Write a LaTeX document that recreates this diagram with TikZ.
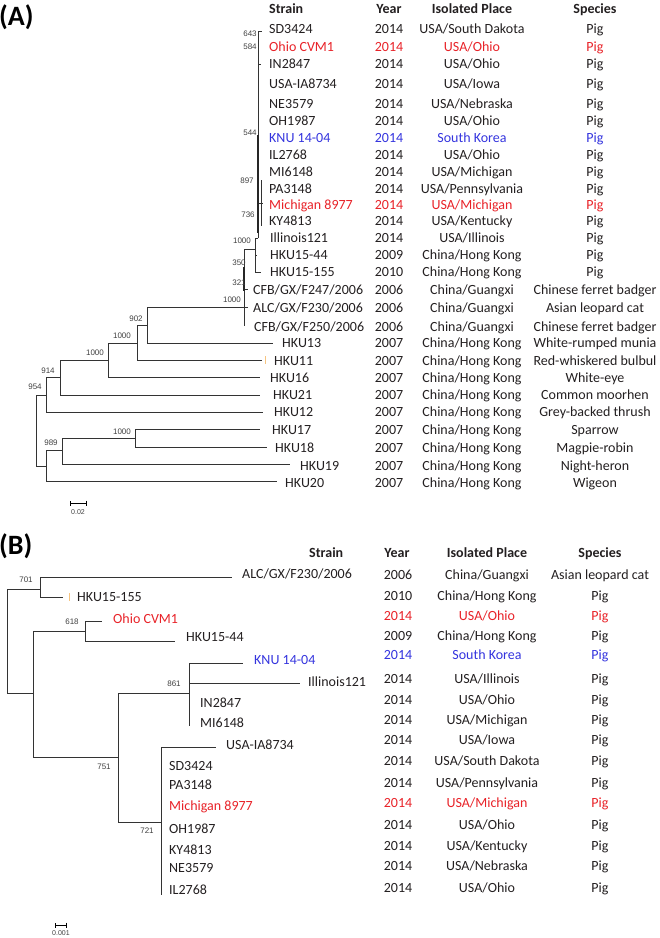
\documentclass[tikz,border=0pt]{standalone}
\usepackage{fontspec}
\setmainfont{Carlito}
\newfontfamily\bsfont{Liberation Sans}
\usetikzlibrary{arrows.meta,positioning}
\definecolor{ink}{RGB}{35,31,32}
\definecolor{ohred}{RGB}{232,34,40}
\definecolor{knublue}{RGB}{52,52,222}
\definecolor{speck}{RGB}{246,196,128}

\begin{document}
\begin{tikzpicture}[x=1pt,y=-1pt]
\tikzstyle{strain}=[anchor=west, inner sep=0pt, font=\fontsize{14}{16}\selectfont, text height=10pt, text depth=1pt, text=ink]
\tikzstyle{cell}=[inner sep=0pt, font=\fontsize{14}{16}\selectfont, text height=10pt, text depth=1pt, text=ink]
\tikzstyle{head}=[cell, font=\bfseries\fontsize{14}{16}\selectfont]
\tikzstyle{panel}=[anchor=west, inner sep=0pt, font=\bfseries\fontsize{28}{30}\selectfont]
\tikzstyle{boot}=[inner sep=0pt, font=\bsfont\fontsize{8}{9}\selectfont, text=black!75]
\tikzstyle{branch}=[line width=0.9pt, draw=black!80]
\tikzstyle{heavy}=[line width=2.2pt, draw=black!85]
\tikzstyle{scalebar}=[line width=0.8pt, {Bar[width=5pt]}-{Bar[width=5pt]}]
\useasboundingbox (0,0) rectangle (660,938);

% ---------- panel A ----------
\node[panel] (lblA) at (-1,17) {(A)};
\node[head, anchor=west] (hStrainA) at (269,9) {Strain};
\node[head] (hYearA) at (389,9) {Year};
\node[head] (hPlaceA) at (472,9) {Isolated Place};
\node[head] (hSpecA) at (595,9) {Species};

\foreach \sx/\yy/\st/\yr/\pl/\sp/\cl [count=\i] in {
  269/29/SD3424/2014/{USA/South Dakota}/Pig/ink,
  269/47/Ohio CVM1/2014/{USA/Ohio}/Pig/ohred,
  269/64/IN2847/2014/{USA/Ohio}/Pig/ink,
  269/84/USA-IA8734/2014/{USA/Iowa}/Pig/ink,
  269/104/NE3579/2014/{USA/Nebraska}/Pig/ink,
  269/121/OH1987/2014/{USA/Ohio}/Pig/ink,
  269/138/KNU 14-04/2014/South Korea/Pig/knublue,
  269/155/IL2768/2014/{USA/Ohio}/Pig/ink,
  269/172/MI6148/2014/{USA/Michigan}/Pig/ink,
  269/189/PA3148/2014/{USA/Pennsylvania}/Pig/ink,
  269/205/Michigan 8977/2014/{USA/Michigan}/Pig/ohred,
  269/221/KY4813/2014/{USA/Kentucky}/Pig/ink,
  270/238/Illinois121/2014/{USA/Illinois}/Pig/ink,
  270/255/HKU15-44/2009/{China/Hong Kong}/Pig/ink,
  270/272/HKU15-155/2010/{China/Hong Kong}/Pig/ink,
  253/290/{CFB/GX/F247/2006}/2006/{China/Guangxi}/Chinese ferret badger/ink,
  253/308/{ALC/GX/F230/2006}/2006/{China/Guangxi}/Asian leopard cat/ink,
  254/327/{CFB/GX/F250/2006}/2006/{China/Guangxi}/Chinese ferret badger/ink,
  282/343/HKU13/2007/{China/Hong Kong}/White-rumped munia/ink,
  274/361/HKU11/2007/{China/Hong Kong}/Red-whiskered bulbul/ink,
  270/378/HKU16/2007/{China/Hong Kong}/White-eye/ink,
  273/395/HKU21/2007/{China/Hong Kong}/Common moorhen/ink,
  274/412/HKU12/2007/{China/Hong Kong}/Grey-backed thrush/ink,
  272/430/HKU17/2007/{China/Hong Kong}/Sparrow/ink,
  275/448/HKU18/2007/{China/Hong Kong}/Magpie-robin/ink,
  300/466/HKU19/2007/{China/Hong Kong}/Night-heron/ink,
  285/483/HKU20/2007/{China/Hong Kong}/Wigeon/ink}{
  \node[strain, text=\cl] (sA\i) at (\sx,\yy) {\st};
  \node[cell, text=\cl] (yrA\i) at (389,\yy) {\yr};
  \node[cell, text=\cl] (plA\i) at (472,\yy) {\pl};
  \node[cell, text=\cl] (spA\i) at (595,\yy) {\sp};
}

% tree A
\coordinate (rA) at (36,430);
\coordinate (n954) at (46,395);
\coordinate (n914) at (60,377);
\coordinate (n1000c) at (108,360);
\coordinate (n1000b) at (137,343);
\coordinate (n902) at (147,325);
\coordinate (nG) at (244,307);
\coordinate (nP) at (255,249);
\coordinate (nQ) at (258,238);
\coordinate (nLow) at (46,466);
\coordinate (n989) at (62,450);
\coordinate (n1000d) at (135,438);
\coordinate (tSD) at (262,31);
\coordinate (tIN) at (261,64);
\coordinate (tMI) at (263,203);
\coordinate (n897) at (261,180);
\coordinate (n736) at (261,226);
\coordinate (tH44) at (257,255);
\coordinate (tH155) at (261,272);
\coordinate (tCFB1) at (248,289);
\coordinate (tALC) at (248,307);
\coordinate (tCFB2) at (244,326);
\coordinate (tH13) at (273,343);
\coordinate (tH11) at (262,360);
\coordinate (tH16) at (260,377);
\coordinate (tH21) at (260,395);
\coordinate (tH12) at (263,412);
\coordinate (tH17) at (260,429);
\coordinate (tH18) at (267,447);
\coordinate (tH19) at (290,464);
\coordinate (tH20) at (277,481);

\draw[branch] (rA) |- (n954) (rA) |- (nLow);
\draw[branch] (n954) |- (n914) (n954) |- (tH12);
\draw[branch] (n914) |- (n1000c) (n914) |- (tH21);
\draw[branch] (n1000c) |- (n1000b) (n1000c) |- (tH16);
\draw[branch] (n1000b) |- (n902) (n1000b) |- (tH11);
\draw[branch] (n902) |- (nG) (n902) |- (tH13);
\draw[branch] (nG) |- (nP) (nG) |- (tCFB1) (nG) |- (tALC) (nG) |- (tCFB2);
\draw[branch] (nP) |- (nQ) (nP) |- (tH44) (nP) |- (tH155);
\draw[branch] (nQ) |- (tSD) (nQ) |- (tIN) (nQ |- tMI) -- (tMI);
\draw[branch] (n897) -- (n736);
\draw[branch] (nLow) |- (n989) (nLow) |- (tH20);
\draw[branch] (n989) |- (n1000d) (n989) |- (tH19);
\draw[branch] (n1000d) |- (tH17) (n1000d) |- (tH18);
\coordinate (k1) at (258,135);
\coordinate (k2) at (258,233);
\coordinate (k3) at (244,267);
\coordinate (k4) at (244,291);
\draw[heavy] (k1) -- (k2);
\draw[heavy] (k3) -- (k4);
\draw[speck, line width=0.8pt] (265,356) -- (265,364);

\node[boot] (b643) at (250,34) {643};
\node[boot] (b584) at (250,47) {584};
\node[boot] (b544) at (250,133) {544};
\node[boot] (b897) at (247,181) {897};
\node[boot] (b736) at (248,215) {736};
\node[boot] (b1000p) at (242,241) {1000};
\node[boot] (b350) at (239,263) {350};
\node[boot] (b321) at (239,283) {321};
\node[boot] (b1000g) at (232,300) {1000};
\node[boot] (b902) at (136,319) {902};
\node[boot] (b1000b) at (122,336) {1000};
\node[boot] (b1000c) at (95,353) {1000};
\node[boot] (b914) at (48,371) {914};
\node[boot] (b954) at (35,387) {954};
\node[boot] (b1000d) at (122,432) {1000};
\node[boot] (b989) at (51,443) {989};

\coordinate (sbA1) at (70,503);
\coordinate (sbA2) at (87,503);
\draw[scalebar] (sbA1) -- (sbA2);
\node[boot, font=\bsfont\fontsize{7}{8}\selectfont] (sclA) at (78,512) {0.02};

% ---------- panel B ----------
\node[panel] (lblB) at (-1,546) {(B)};
\node[head, anchor=west] (hStrainB) at (309,553) {Strain};
\node[head] (hYearB) at (397,553) {Year};
\node[head] (hPlaceB) at (487,553) {Isolated Place};
\node[head] (hSpecB) at (600,553) {Species};

\foreach \sx/\sy/\st/\ty/\yr/\pl/\sp/\cl [count=\i] in {
  242/574/{ALC/GX/F230/2006}/575/2006/{China/Guangxi}/Asian leopard cat/ink,
  77/597/HKU15-155/596/2010/{China/Hong Kong}/Pig/ink,
  113/619/Ohio CVM1/616/2014/{USA/Ohio}/Pig/ohred,
  186/637/HKU15-44/636/2009/{China/Hong Kong}/Pig/ink,
  254/660/KNU 14-04/655/2014/South Korea/Pig/knublue,
  308/682/Illinois121/679/2014/{USA/Illinois}/Pig/ink,
  200/703/IN2847/700/2014/{USA/Ohio}/Pig/ink,
  200/723/MI6148/720/2014/{USA/Michigan}/Pig/ink,
  226/745/USA-IA8734/740/2014/{USA/Iowa}/Pig/ink,
  169/766/SD3424/761/2014/{USA/South Dakota}/Pig/ink,
  169/785/PA3148/783/2014/{USA/Pennsylvania}/Pig/ink,
  169/806/Michigan 8977/803/2014/{USA/Michigan}/Pig/ohred,
  169/829/OH1987/825/2014/{USA/Ohio}/Pig/ink,
  169/850/KY4813/846/2014/{USA/Kentucky}/Pig/ink,
  169/868/NE3579/866/2014/{USA/Nebraska}/Pig/ink,
  169/890/IL2768/888/2014/{USA/Ohio}/Pig/ink}{
  \node[strain, text=\cl] (sB\i) at (\sx,\sy) {\st};
  \node[cell, text=\cl] (yrB\i) at (398,\ty) {\yr};
  \node[cell, text=\cl] (plB\i) at (487,\ty) {\pl};
  \node[cell, text=\cl] (spB\i) at (600,\ty) {\sp};
}

% tree B
\coordinate (rB) at (7,641);
\coordinate (n701) at (40,589);
\coordinate (nMid) at (33,693);
\coordinate (n618) at (85,631);
\coordinate (n751) at (118,757);
\coordinate (n861) at (189,693);
\coordinate (n721) at (161,822);
\coordinate (tALCb) at (232,577);
\coordinate (tH155b) at (63,597);
\coordinate (tOhiob) at (102,621);
\coordinate (tH44b) at (175,641);
\coordinate (tKNUb) at (243,663);
\coordinate (tILLb) at (300,683);
\coordinate (tMIb) at (189,726);
\coordinate (tIAb) at (216,747);
\coordinate (tILb) at (161,895);

\draw[branch] (rB) |- (n701) (rB) |- (nMid);
\draw[branch] (n701) |- (tALCb) (n701) |- (tH155b);
\draw[branch] (nMid) |- (n618) (nMid) |- (n751);
\draw[branch] (n618) |- (tOhiob) (n618) |- (tH44b);
\draw[branch] (n751) |- (n861) (n751) |- (n721);
\draw[branch] (n861) |- (tKNUb) (n861) |- (tILLb) (n861) |- (tMIb);
\draw[branch] (n721) |- (tIAb) (n721) |- (tILb);
\draw[speck, line width=0.8pt] (69,593) -- (69,601);

\node[boot] (b701) at (26,580) {701};
\node[boot] (b618) at (72,622) {618};
\node[boot] (b861) at (174,684) {861};
\node[boot] (b751) at (104,767) {751};
\node[boot] (b721) at (147,831) {721};

\coordinate (sbB1) at (55,925);
\coordinate (sbB2) at (67,925);
\draw[scalebar] (sbB1) -- (sbB2);
\node[boot, font=\bsfont\fontsize{7}{8}\selectfont] (sclB) at (61,933) {0.001};
\end{tikzpicture}
\end{document}
